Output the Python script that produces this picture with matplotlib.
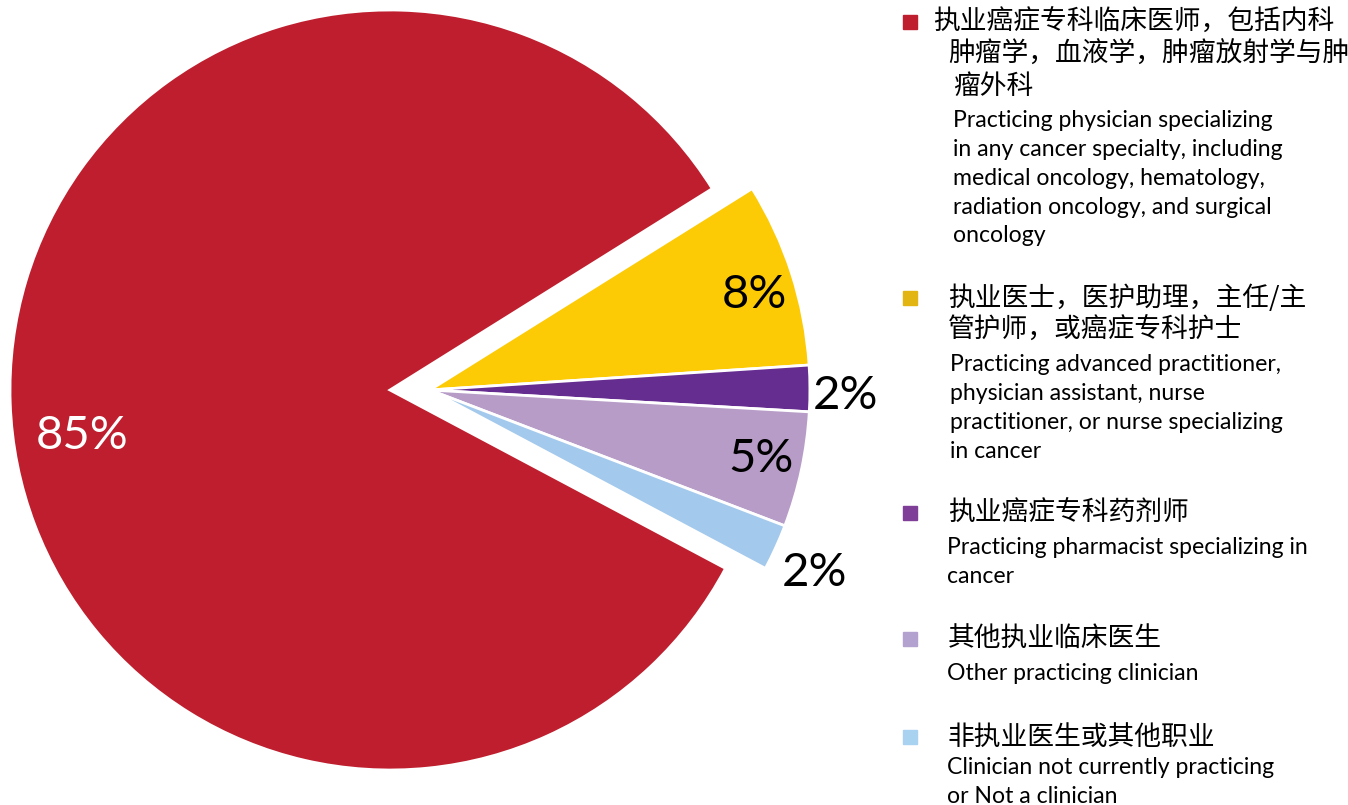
import matplotlib.pyplot as plt
import matplotlib.patches as mpatches
import numpy as np

plt.rcParams['font.family'] = ['Lato', 'Noto Sans CJK SC', 'DejaVu Sans']

# shares as printed on the slices (they add to 102 because of rounding)
shares = [85, 8, 2, 5, 2]
pie_colors = ['#BE1E2D', '#FDCB05', '#662D91', '#B79CC8', '#A3C9EC']
key_colors = ['#BE1E2D', '#E3B512', '#7F3F98', '#B3A2CF', '#A9D1F0']

labels_zh = [
    ['执业癌症专科临床医师，包括内科', '肿瘤学，血液学，肿瘤放射学与肿', '瘤外科'],
    ['执业医士，医护助理，主任/主', '管护师，或癌症专科护士'],
    ['执业癌症专科药剂师'],
    ['其他执业临床医生'],
    ['非执业医生或其他职业'],
]
labels_en = [
    ['Practicing physician specializing', 'in any cancer specialty, including',
     'medical oncology, hematology,', 'radiation oncology, and surgical', 'oncology'],
    ['Practicing advanced practitioner,', 'physician assistant, nurse',
     'practitioner, or nurse specializing', 'in cancer'],
    ['Practicing pharmacist specializing in', 'cancer'],
    ['Other practicing clinician'],
    ['Clinician not currently practicing', 'or Not a clinician'],
]

W, H = 1348, 805
fig = plt.figure(figsize=(W / 100, H / 100), dpi=100)
ax = fig.add_axes([10 / W, 35 / H, 760 / W, 760 / H])

wedges, _ = ax.pie(shares, colors=pie_colors, startangle=-28, counterclock=False,
                   radius=1.0, wedgeprops=dict(edgecolor='white', linewidth=2, clip_on=False))
ax.set_xlim(-1, 1)
ax.set_ylim(-1, 1)
ax.set_aspect('equal')
ax.axis('off')

# the small slices are pulled out together to the right
for w in wedges[1:]:
    w.set_center((0.105, 0.0))

label_dist = [0.82, 0.89, 1.095, 0.89, 1.12]
label_nudge = [6.5, -1.5, -1, 0.3, -1]
label_color = ['white', 'black', 'black', 'black', 'black']
for w, v, d, n, c in zip(wedges, shares, label_dist, label_nudge, label_color):
    a = np.deg2rad((w.theta1 + w.theta2) / 2 + n)
    cx, cy = w.center
    ax.text(cx + d * np.cos(a), cy + d * np.sin(a), f'{v}%', color=c,
            fontsize=34, ha='center', va='center')

# legend on the right, built by hand
key_y = [22, 298, 513, 639, 737]
zh_x = [933, 948, 948, 948, 948]
en_x = [953, 950, 947, 947, 947]
zh_step, en_step = 32, 29
for i in range(len(shares)):
    y = key_y[i]
    fig.add_artist(mpatches.Rectangle((903 / W, 1 - (y + 7) / H), 14 / W, 14 / H,
                                      transform=fig.transFigure, color=key_colors[i]))
    for j, line in enumerate(labels_zh[i]):
        x = zh_x[i] + (15 if (i == 0 and j > 0) else 0) + (5 if (i == 0 and j > 1) else 0)
        fig.text(x / W, 1 - (y + j * zh_step) / H, line, fontsize=19.3,
                 family=['Noto Sans CJK SC', 'DejaVu Sans'], va='center', ha='left')
    ey = y + (len(labels_zh[i]) - 1) * zh_step + 34
    if i == len(shares) - 1:
        ey -= 4
    for j, line in enumerate(labels_en[i]):
        fig.text(en_x[i] / W, 1 - (ey + j * en_step) / H, line, fontsize=16.6,
                 va='center', ha='left')

fig.savefig('out.png', dpi=100)
